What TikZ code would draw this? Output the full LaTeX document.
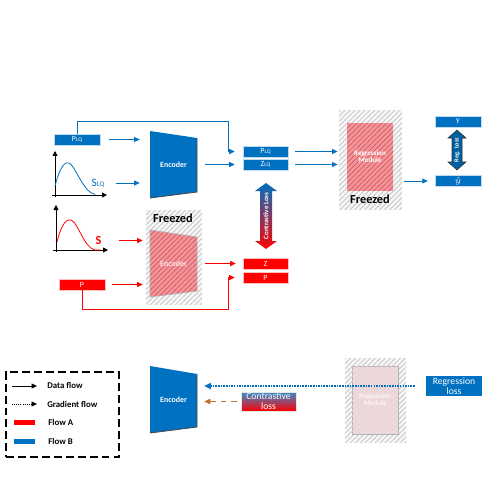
\documentclass[tikz,border=0pt]{standalone}
\usepackage{fontspec}
\setmainfont{Carlito}
\usetikzlibrary{arrows.meta,positioning,calc,patterns.meta}
\definecolor{flowb}{RGB}{0,112,192}
\definecolor{flowa}{RGB}{255,0,0}
\definecolor{gradc}{RGB}{197,110,40}
\definecolor{encred}{RGB}{242,150,155}
\definecolor{hatchred}{RGB}{215,85,95}
\definecolor{regpink}{RGB}{242,215,220}
\newcommand{\fsz}[1]{\fontsize{#1}{#1}\selectfont}
\newcommand{\lqsub}{{\fsz{3.2}LQ}}
\tikzset{
  barr/.style={-{Triangle[length=1.1mm,width=1mm]}, flowb, line width=0.45pt},
  rarr/.style={barr, flowa},
  bbox/.style={fill=flowb, draw=white!75!flowb, line width=0.3pt, text=white,
               minimum width=0.92cm, minimum height=0.22cm, inner sep=0pt, font=\fsz{4.5}},
  rbox/.style={bbox, fill=flowa, draw=white!75!flowa},
  frzbox/.style={draw=none, preaction={fill=black!3}, inner sep=0pt,
                 pattern={Lines[angle=45,distance=2pt,line width=0.5pt]}, pattern color=black!22},
  redhatch/.style={postaction={pattern={Lines[angle=45,distance=2pt,line width=0.4pt]}, pattern color=hatchred}},
  frzlbl/.style={font=\fsz{7}\bfseries},
  enclbl/.style={text=white, font=\fsz{4.5}\bfseries, inner sep=0pt,
                 minimum width=0.94cm, minimum height=1.34cm},
  legtxt/.style={anchor=west, font=\fsz{5}\bfseries, inner sep=0pt},
  axarr/.style={-{Triangle[length=1mm,width=1mm]}, black, line width=0.45pt},
}

\begin{document}
\begin{tikzpicture}[x=0.02cm,y=-0.02cm]
  \useasboundingbox (0,0) rectangle (500,500);

  % ---- flow B (top row)
  \node[bbox] (plq) at (77,139.5) {P\lqsub};
  \draw[axarr] (55,197) -- (55,151);
  \draw[axarr] (52,195) -- (107,195);
  \draw[flowb, line width=0.45pt] (55,186) .. controls (61,163) and (66,162) .. (69,163)
        .. controls (75,165) and (83,192) .. (95,194.5);
  \node[text=flowb, font=\fsz{6.5}] (slq) at (98,183) {S{\fsz{4}LQ}};

  \fill[flowb] (150,131) -- (197,138) -- (197,192) -- (150,198) -- cycle;
  \draw[black!70, line width=0.5pt] (197,138) -- (197,192) -- (150,198);
  \node[enclbl] (encb) at (173.5,164.5) {Encoder};

  \node[bbox, minimum width=0.9cm] (plqb) at (265.5,151.5) {P\lqsub};
  \node[bbox, minimum width=0.9cm] (zlq) at (265.5,164.5) {Z\lqsub};

  \draw[barr, shorten <=1.8mm, shorten >=2mm] (plq.east) -- (encb.west |- plq.east);
  \draw[barr, shorten <=1mm, shorten >=2mm] (slq.east) -- (encb.west |- slq.east);
  \draw[barr, shorten <=1.6mm, shorten >=1.6mm] (encb.east) -- (zlq.west);
  \coordinate (bendb) at (228,121);
  \draw[barr, shorten >=1.6mm] (plq.north) |- (bendb) |- (plqb.west);

  % regression module
  \node[frzbox, minimum width=1.26cm, minimum height=2cm] (regf) at (370.5,160) {};
  \node[draw=none, fill=encred, inner sep=0pt, minimum width=0.92cm, minimum height=1.36cm,
        redhatch, text=white, font=\fsz{4}\bfseries, align=center] (regm) at (370,157) {Regression\\Module};
  \node[frzlbl] (frzb) at (370,199) {Freezed};
  \draw[barr, shorten <=1.4mm, shorten >=0.2mm] (plqb.east) -- (regf.west |- plqb.east);
  \draw[barr, shorten <=1.4mm, shorten >=0.2mm] (zlq.east) -- (regf.west |- zlq.east);

  \node[bbox] (yt) at (458,121.5) {y};
  \node[bbox] (yh) at (458,181) {$\hat{y}$};
  \draw[barr, shorten <=0.4mm, shorten >=1.4mm] (regf.east |- yh.west) -- (yh.west);

  % reg. loss arrow
  \draw[fill=flowb!85!black, draw=black!80, line width=0.3pt]
    (457,130) -- (466,138) -- (462,138) -- (462,162) -- (466,162) -- (457,170)
    -- (448,162) -- (452,162) -- (452,138) -- (448,138) -- cycle;
  \node[rotate=90, text=white, font=\fsz{3.6}\bfseries, inner sep=0pt] (rloss) at (457,150) {Reg. Loss};

  % contrastive loss arrow
  \path[top color=flowb, bottom color=flowa, draw=none]
    (266,183) -- (277,191) -- (272,191) -- (272,241) -- (277,241) -- (266,249)
    -- (255,241) -- (260,241) -- (260,191) -- (255,191) -- cycle;
  \node[rotate=90, text=white, font=\fsz{4}\bfseries, inner sep=0pt] (closs) at (266,216) {Contrastive Loss};

  % ---- flow A (bottom row)
  \draw[axarr] (56,252) -- (56,205);
  \draw[axarr] (53,250) -- (108,250);
  \draw[flowa, line width=0.45pt] (57,242) .. controls (62,222) and (67,219) .. (71,220)
        .. controls (78,222) and (84,248) .. (95,250) -- (101,250);
  \node[text=flowa, font=\fsz{7}\bfseries] (sa) at (98.5,240.5) {S};
  \node[rbox] (pin) at (82,284.5) {P};

  \node[frzbox, minimum width=1.12cm, minimum height=1.9cm] (frza) at (174,257.5) {};
  \node[frzlbl] (frzt) at (173,218) {Freezed};
  \path[fill=encred, redhatch] (150,230) -- (197,237) -- (197,291) -- (150,297) -- cycle;
  \draw[black!30, line width=0.4pt] (150,230) -- (197,237) -- (197,291) -- (150,297) -- cycle;
  \node[enclbl, text=white!90!red] (enca) at (173.5,263.5) {Encoder};

  \node[rbox, minimum width=0.9cm] (zr) at (265.5,263.5) {Z};
  \node[rbox, minimum width=0.9cm] (pr) at (265.5,277.5) {P};

  \draw[rarr, shorten <=2.2mm, shorten >=1.4mm] (sa.east) -- (enca.west |- sa.east);
  \draw[rarr, shorten <=1.4mm, shorten >=1.4mm] (pin.east) -- (enca.west |- pin.east);
  \draw[rarr, shorten <=1.6mm, shorten >=1.4mm] (enca.east) -- (zr.west);
  \coordinate (benda) at (228,309);
  \draw[rarr, shorten >=1.6mm] (pin.south) |- (benda) |- (pr.west);

  % ---- legend
  \node[draw, line width=1pt, dash pattern=on 4.5pt off 2.3pt, minimum width=2.26cm,
        minimum height=1.7cm, inner sep=0pt] (legend) at (62.5,414.5) {};
  \coordinate (lda) at (12,386);
  \coordinate (ldb) at (37,386);
  \draw[-{Triangle[length=1.1mm,width=1mm]}, line width=0.45pt] (lda) -- (ldb);
  \node[legtxt] (ldt) at (47,385) {Data flow};
  \coordinate (lga) at (12,404);
  \coordinate (lgb) at (37,404);
  \draw[-{Triangle[length=1.1mm,width=1mm]}, line width=0.45pt, dash pattern=on 0.6pt off 0.6pt] (lga) -- (lgb);
  \node[legtxt] (lgt) at (47,404) {Gradient flow};
  \fill[flowa] (14,420) rectangle (35,425);
  \node[legtxt] (lat) at (48,422.5) {Flow A};
  \fill[flowb] (14,439) rectangle (35,444);
  \node[legtxt] (lbt) at (48,441.5) {Flow B};

  % ---- gradient paths
  \fill[flowb] (150,366) -- (197,374) -- (197,427) -- (150,433) -- cycle;
  \draw[black!70, line width=0.5pt] (197,374) -- (197,427) -- (150,433);
  \node[enclbl] (encg) at (173.5,399.5) {Encoder};

  \node[top color=flowb!80!white, bottom color=flowa, text=white, font=\fsz{5.5},
        align=center, inner sep=0pt, minimum width=1.1cm, minimum height=0.38cm,
        draw=white!80!gray, line width=0.3pt] (clbox) at (268.5,401.5) {Contrastive\\loss};

  \node[frzbox, minimum width=1.22cm, minimum height=1.7cm] (rgf) at (375.5,400.5) {};
  \node[fill=regpink, draw=black!30, line width=0.5pt, inner sep=0pt,
        minimum width=0.92cm, minimum height=1.36cm, text=white!80!regpink,
        font=\fsz{4}\bfseries, align=center,
        postaction={pattern={Lines[angle=45,distance=2pt,line width=0.4pt]}, pattern color=black!15}]
        (rgm) at (375,400) {Regression\\Module};

  \node[fill=flowb, text=white, font=\fsz{5.5}, align=center, inner sep=0pt,
        minimum width=1.12cm, minimum height=0.4cm] (rlbox) at (454,386) {Regression\\loss};

  \draw[-{Triangle[length=1.3mm,width=1.2mm]}, flowb, line width=0.7pt, dash pattern=on 0.9pt off 0.6pt,
        shorten <=2.2mm, shorten >=1.4mm] (rlbox.west) -- (encg.east |- rlbox.west);
  \draw[-{Triangle[length=1.2mm,width=1.1mm]}, gradc, line width=0.45pt, dashed,
        shorten <=0.8mm, shorten >=1.4mm] (clbox.west) -- (encg.east |- clbox.west);
\end{tikzpicture}
\end{document}
